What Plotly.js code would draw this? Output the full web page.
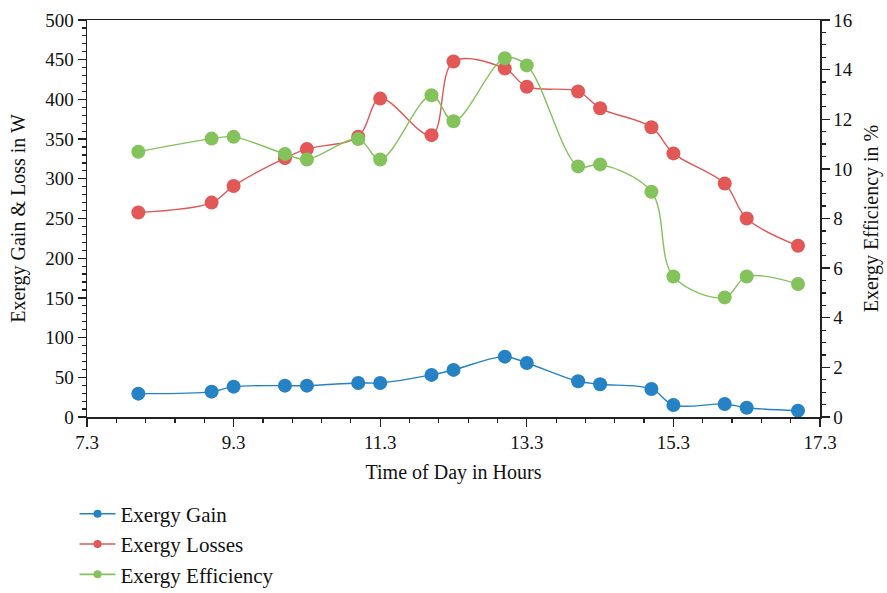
<!DOCTYPE html>
<html>
<head>
<meta charset="utf-8">
<script src="https://cdn.plot.ly/plotly-3.0.1.min.js"></script>
<style>html,body{margin:0;padding:0;background:#fff;}#chart{width:887px;height:593px;}</style>
</head>
<body>
<div id="chart"></div>
<script>
const timeOfDay = [8.0, 9.0, 9.3, 10.0, 10.3, 11.0, 11.3, 12.0, 12.3, 13.0, 13.3, 14.0, 14.3, 15.0, 15.3, 16.0, 16.3, 17.0];
const exergyGain = [29.4, 31.9, 38.2, 39.5, 39.5, 42.9, 42.9, 53, 59.3, 76, 68, 45, 41.2, 35.3, 15.1, 16.4, 11.7, 8];
const exergyLosses = [257.6, 270, 291, 326, 337.6, 353, 401, 355, 447.7, 438.8, 416, 410, 388.8, 365, 332, 294, 250, 215.6];
const exergyEfficiency = [10.69, 11.22, 11.29, 10.6, 10.38, 11.2, 10.38, 12.97, 11.92, 14.46, 14.17, 10.1, 10.18, 9.08, 5.66, 4.82, 5.66, 5.36];
const seriesNames = ['Exergy Gain', 'Exergy Losses', 'Exergy Efficiency'];
const seriesColors = ['#2482c5', '#e15856', '#84c25c'];

const FONT = 'Liberation Serif, DejaVu Serif, serif';
function tr(y, i, axis) {
  return {
    x: timeOfDay, y: y, name: seriesNames[i], yaxis: axis, type: 'scatter', mode: 'lines+markers',
    showlegend: false,
    line: {color: seriesColors[i], width: 1.4, shape: 'spline', smoothing: 1},
    marker: {color: seriesColors[i], size: 14}
  };
}
function legendEntry(i) {
  return {
    x: [null], y: [null], name: seriesNames[i], type: 'scatter', mode: 'lines+markers',
    line: {color: seriesColors[i], width: 1.6}, marker: {color: seriesColors[i], size: 8}
  };
}
const data = [
  tr(exergyGain, 0, 'y'),
  tr(exergyLosses, 1, 'y'),
  tr(exergyEfficiency, 2, 'y2'),
  legendEntry(0), legendEntry(1), legendEntry(2)
];
const axisCommon = {
  showgrid: false, zeroline: false, showline: true, linecolor: '#222', linewidth: 1.5,
  ticks: 'outside', ticklen: 8, tickwidth: 1.3, tickcolor: '#222',
  tickfont: {family: FONT, size: 19, color: '#111'}
};
const layout = {
  width: 887, height: 593,
  margin: {l: 87, r: 67, t: 20, b: 176, autoexpand: false},
  paper_bgcolor: '#fff', plot_bgcolor: '#fff',
  font: {family: FONT, size: 19, color: '#111'},
  showlegend: true,
  legend: {x: -0.017, y: -0.193, xanchor: 'left', yanchor: 'top', orientation: 'v',
           itemwidth: 36, tracegroupgap: 0,
           font: {family: FONT, size: 21, color: '#111'}, bgcolor: 'rgba(0,0,0,0)'},
  xaxis: Object.assign({}, axisCommon, {
    range: [7.3, 17.3], tick0: 7.3, dtick: 2, mirror: true,
    minor: {tick0: 7.3, dtick: 0.4, ticks: 'outside', ticklen: 4, tickcolor: '#222', tickwidth: 1.2},
    title: {text: 'Time of Day in Hours', font: {family: FONT, size: 20, color: '#111'}, standoff: 12}
  }),
  yaxis: Object.assign({}, axisCommon, {
    range: [0, 500], dtick: 50, mirror: false,
    minor: {dtick: 10, ticks: 'outside', ticklen: 4, tickcolor: '#222', tickwidth: 1.2},
    title: {text: 'Exergy Gain & Loss in W', font: {family: FONT, size: 20, color: '#111'}, standoff: 14}
  }),
  yaxis2: Object.assign({}, axisCommon, {
    range: [0, 16], dtick: 2, overlaying: 'y', side: 'right',
    minor: {dtick: 0.5, ticks: 'outside', ticklen: 4, tickcolor: '#222', tickwidth: 1.2},
    title: {text: 'Exergy Efficiency in %', font: {family: FONT, size: 20, color: '#111'}, standoff: 12}
  })
};
Plotly.newPlot('chart', data, layout, {displayModeBar: false, staticPlot: true});
</script>
</body>
</html>
